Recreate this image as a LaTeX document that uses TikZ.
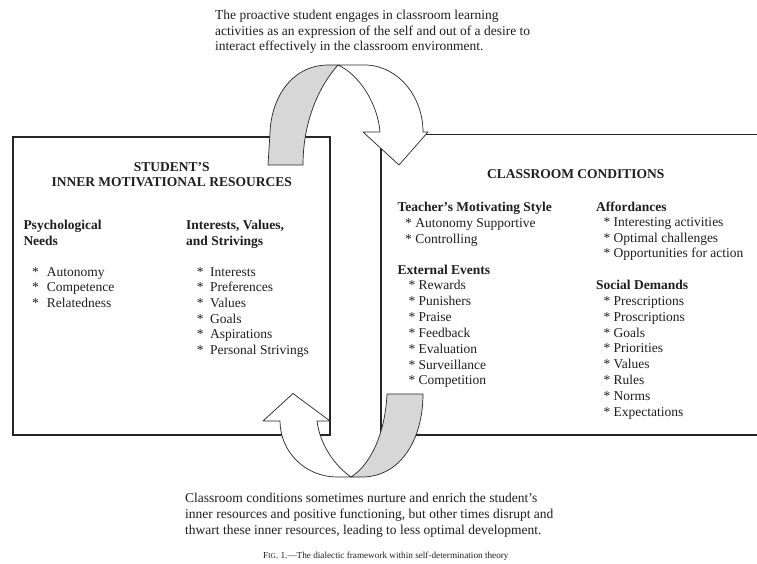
\documentclass[tikz,border=0pt]{standalone}
\usepackage{fontspec}
\setmainfont{Liberation Serif}
\definecolor{ink}{RGB}{30,30,30}
\definecolor{band}{RGB}{215,215,215}
\begin{document}
\begin{tikzpicture}[x=1pt,y=-1pt,
  txt/.style={anchor=base west, inner sep=0pt, font=\fontsize{13.5}{15.7}\selectfont, text=ink},
  hd/.style={txt, font=\fontsize{13.5}{15.7}\selectfont\bfseries},
  hdc/.style={hd, anchor=base},
  boxline/.style={draw=black!85, line width=1.1pt},
  arrowline/.style={draw=black!85, line width=0.7pt, line join=round},
]
\useasboundingbox[fill=white] (0,0) rectangle (757,564);

% boxes
\draw[boxline] (13,137) rectangle (330,435);
\draw[boxline] (757,134.5) -- (381,134.5) -- (381,435) -- (757,435);

% top arrow
\fill[band, arrowline] (268,165) -- (270,133) .. controls (271,100) and (290,66) .. (327,65)
  -- (338,65) .. controls (320,85) and (303,120) .. (303,165) -- cycle;
\fill[white, arrowline] (338,65) -- (367,65) .. controls (400,67) and (423,98) .. (423,132)
  -- (428,132) -- (399,165) -- (363,132) -- (380,132)
  .. controls (378,105) and (360,75) .. (338,65) -- cycle;

% bottom arrow
\fill[band, arrowline] (387,394) -- (423,394) .. controls (423,440) and (400,477) .. (362,477)
  -- (351,477) .. controls (370,465) and (385,435) .. (387,394) -- cycle;
\fill[white, arrowline] (351,477) -- (337,477) .. controls (305.5,477) and (280,452) .. (280,421)
  -- (263,421) -- (293,393.5) -- (330,421) -- (317,421)
  .. controls (320,445) and (335,466) .. (351,477) -- cycle;

% top and bottom text
\node[txt] (top1) at (215,19.5) {The proactive student engages in classroom learning};
\node[txt] (top2) at (215,35.2) {activities as an expression of the self and out of a desire to};
\node[txt] (top3) at (215,50.9) {interact effectively in the classroom environment.};
\node[txt] (bot1) at (185,502.8) {Classroom conditions sometimes nurture and enrich the student’s};
\node[txt] (bot2) at (185,518.5) {inner resources and positive functioning, but other times disrupt and};
\node[txt] (bot3) at (185,534.2) {thwart these inner resources, leading to less optimal development.};
\node[anchor=base, inner sep=0pt, text=ink, font=\fontsize{9.2}{11}\selectfont] (cap) at (385.8,558.5)
  {F{\fontsize{7.4}{9}\selectfont IG}. 1.—The dialectic framework within self-determination theory};

% left box
\node[hdc] (lh1) at (171.7,171.2) {STUDENT’S};
\node[hdc] (lh2) at (171.7,186.4) {INNER MOTIVATIONAL RESOURCES};
\node[hd] (pnh1) at (23.3,229.5) {Psychological};
\node[hd] (pnh2) at (23.3,245) {Needs};
\foreach \t [count=\i] in {Autonomy,Competence,Relatedness}{
  \node[txt] (pns\i) at (32,{276+15.7*(\i-1)}) {*};
  \node[txt] (pn\i) at (46.7,{276+15.7*(\i-1)}) {\t};
}
\node[hd] (ivh1) at (186,229.5) {Interests, Values,};
\node[hd] (ivh2) at (186,245) {and Strivings};
\foreach \t [count=\i] in {Interests,Preferences,Values,Goals,Aspirations,Personal Strivings}{
  \node[txt] (ivs\i) at (196.7,{276+15.7*(\i-1)}) {*};
  \node[txt] (iv\i) at (210,{276+15.7*(\i-1)}) {\t};
}

% right box
\node[hdc] (rh) at (575.8,178.5) {CLASSROOM CONDITIONS};
\node[hd] (tms) at (397.3,211.8) {Teacher’s Motivating Style};
\node[txt] (tms1) at (405,227.6) {* Autonomy Supportive};
\node[txt] (tms2) at (405,243.3) {* Controlling};
\node[hd] (ee) at (397.3,274.5) {External Events};
\foreach \t [count=\i] in {Rewards,Punishers,Praise,Feedback,Evaluation,Surveillance,Competition}{
  \node[txt] (ee\i) at (408.3,{289.8+15.85*(\i-1)}) {* \t};
}
\node[hd] (af) at (596,211.2) {Affordances};
\foreach \t [count=\i] in {Interesting activities,Optimal challenges,Opportunities for action}{
  \node[txt] (af\i) at (603.3,{226.2+15.8*(\i-1)}) {* \t};
}
\node[hd] (sd) at (596,289.5) {Social Demands};
\foreach \t [count=\i] in {Prescriptions,Proscriptions,Goals,Priorities,Values,Rules,Norms,Expectations}{
  \node[txt] (sd\i) at (603.3,{305.5+15.8*(\i-1)}) {* \t};
}
\end{tikzpicture}
\end{document}
